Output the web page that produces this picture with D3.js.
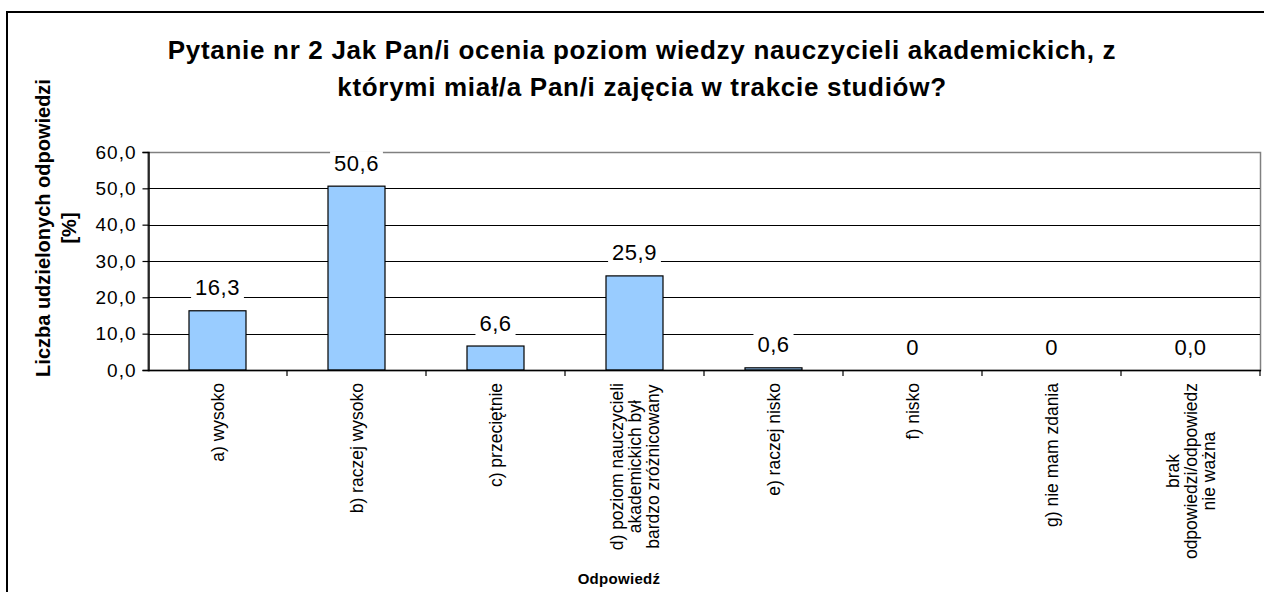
<!DOCTYPE html>
<html>
<head>
<meta charset="utf-8">
<script src="https://cdn.jsdelivr.net/npm/d3@7/dist/d3.min.js"></script>
<style>
  html, body { margin: 0; padding: 0; background: #fff; }
  svg { display: block; font-family: "Liberation Sans", Arial, sans-serif; }
</style>
</head>
<body>
<svg id="chart" width="1264" height="592"></svg>
<script>
const titleLines = ["Pytanie nr 2 Jak Pan/i ocenia poziom wiedzy nauczycieli akademickich, z",
                    "którymi miał/a Pan/i zajęcia w trakcie studiów?"];
const yTitleLines = ["Liczba udzielonych odpowiedzi", "[%]"];
const xTitle = "Odpowiedź";
const categories = [
  ["a) wysoko"],
  ["b) raczej wysoko"],
  ["c) przeciętnie"],
  ["d) poziom nauczycieli", "akademickich był", "bardzo zróżnicowany"],
  ["e) raczej nisko"],
  ["f) nisko"],
  ["g) nie mam zdania"],
  ["brak", "odpowiedzi/odpowiedz", "nie ważna"]
];
const values = [16.3, 50.6, 6.6, 25.9, 0.6, 0, 0, 0];
const valueLabels = ["16,3", "50,6", "6,6", "25,9", "0,6", "0", "0", "0,0"];
const yTicks = [0, 10, 20, 30, 40, 50, 60];
const yTickLabels = ["0,0", "10,0", "20,0", "30,0", "40,0", "50,0", "60,0"];

const svg = d3.select("#chart");
const plot = { left: 148, right: 1260, top: 152, bottom: 370 };

// outer chart border
svg.append("rect").attr("x", 7).attr("y", 12).attr("width", 1400).attr("height", 800)
  .attr("fill", "none").attr("stroke", "#000").attr("stroke-width", 2);

const xb = d3.scaleBand().domain(d3.range(categories.length)).range([plot.left, plot.right]);
const y = d3.scaleLinear().domain([0, 60]).range([plot.bottom, plot.top]);

// plot area border (grey)
svg.append("rect").attr("x", plot.left).attr("y", plot.top + 0.5)
  .attr("width", plot.right - plot.left + 0.5).attr("height", plot.bottom - plot.top)
  .attr("fill", "none").attr("stroke", "#808080").attr("stroke-width", 1.5);

// gridlines
svg.append("g").selectAll("line").data(yTicks.filter(t => t > 0 && t < 60)).join("line")
  .attr("x1", plot.left).attr("x2", plot.right)
  .attr("y1", d => Math.round(y(d)) + 0.5).attr("y2", d => Math.round(y(d)) + 0.5)
  .attr("stroke", "#000").attr("stroke-width", 1);

// bars
svg.append("g").selectAll("rect").data(values).join("rect")
  .attr("x", (d, i) => xb(i) + xb.bandwidth() / 2 - 28.5)
  .attr("width", 57)
  .attr("y", d => y(d))
  .attr("height", d => y(0) - y(d))
  .attr("fill", "#99CCFF").attr("stroke", "#000").attr("stroke-width", 1.2);

// value labels with white background
const vl = svg.append("g");
values.forEach((v, i) => {
  const cx = xb(i) + xb.bandwidth() / 2;
  const cy = y(v) - 23;
  const t = vl.append("text").attr("x", cx).attr("y", cy)
    .attr("text-anchor", "middle").attr("dominant-baseline", "central")
    .attr("font-size", 22).attr("letter-spacing", 0.5).attr("fill", "#000")
    .text(valueLabels[i]);
  const w = t.node().getComputedTextLength();
  vl.insert("rect", "text").attr("x", cx - w / 2 - 4).attr("y", cy - 12)
    .attr("width", w + 8).attr("height", 24).attr("fill", "#fff");
});

// y axis
const yAxis = d3.axisLeft(y).tickValues(yTicks).tickFormat((d, i) => yTickLabels[i])
  .tickSize(6).tickPadding(6);
const ya = svg.append("g").attr("transform", `translate(${plot.left + 0.5},0)`).call(yAxis);
ya.select(".domain").attr("stroke", "#000").attr("stroke-width", 1.5);
ya.selectAll(".tick line").attr("stroke", "#000").attr("stroke-width", 1.2);
ya.selectAll(".tick text").attr("font-size", 19).attr("letter-spacing", 1)
  .attr("font-family", "Liberation Sans, Arial, sans-serif").attr("fill", "#000");

// x axis line + boundary ticks
svg.append("line").attr("x1", plot.left).attr("x2", plot.right + 1)
  .attr("y1", plot.bottom + 0.5).attr("y2", plot.bottom + 0.5)
  .attr("stroke", "#000").attr("stroke-width", 1.5);
svg.append("g").selectAll("line").data(d3.range(1, categories.length + 1)).join("line")
  .attr("x1", i => i < categories.length ? xb(i) : plot.right)
  .attr("x2", i => i < categories.length ? xb(i) : plot.right)
  .attr("y1", plot.bottom).attr("y2", plot.bottom + 6)
  .attr("stroke", "#000").attr("stroke-width", 1.2);

// category labels (rotated)
const lineH = 18;
categories.forEach((lines, i) => {
  const cx = xb(i) + xb.bandwidth() / 2;
  const g = svg.append("g");
  const texts = lines.map((ln, j) => g.append("text")
    .attr("font-size", 17.5).attr("fill", "#000")
    .attr("text-anchor", "middle").attr("dominant-baseline", "central").text(ln));
  const maxLen = d3.max(texts, t => t.node().getComputedTextLength());
  const cy = 383 + maxLen / 2;
  texts.forEach((t, j) => {
    const dx = (j - (lines.length - 1) / 2) * lineH;
    t.attr("transform", `translate(${cx + dx},${cy}) rotate(-90)`);
  });
});

// title
svg.append("g").selectAll("text").data(titleLines).join("text")
  .attr("x", 642).attr("y", (d, i) => 59 + i * 37)
  .attr("text-anchor", "middle").attr("font-size", 26).attr("letter-spacing", 0.7)
  .attr("font-weight", "bold").attr("fill", "#000").text(d => d);

// y axis title
svg.append("g").selectAll("text").data(yTitleLines).join("text")
  .attr("transform", (d, i) => `translate(${43 + i * 26},228) rotate(-90)`)
  .attr("text-anchor", "middle").attr("dominant-baseline", "central")
  .attr("font-size", 20).attr("font-weight", "bold").attr("fill", "#000").text(d => d);

// x axis title
svg.append("text").attr("x", 619).attr("y", 578)
  .attr("text-anchor", "middle").attr("dominant-baseline", "central")
  .attr("font-size", 15).attr("letter-spacing", 0.3)
  .attr("font-weight", "bold").attr("fill", "#000").text(xTitle);
</script>
</body>
</html>
